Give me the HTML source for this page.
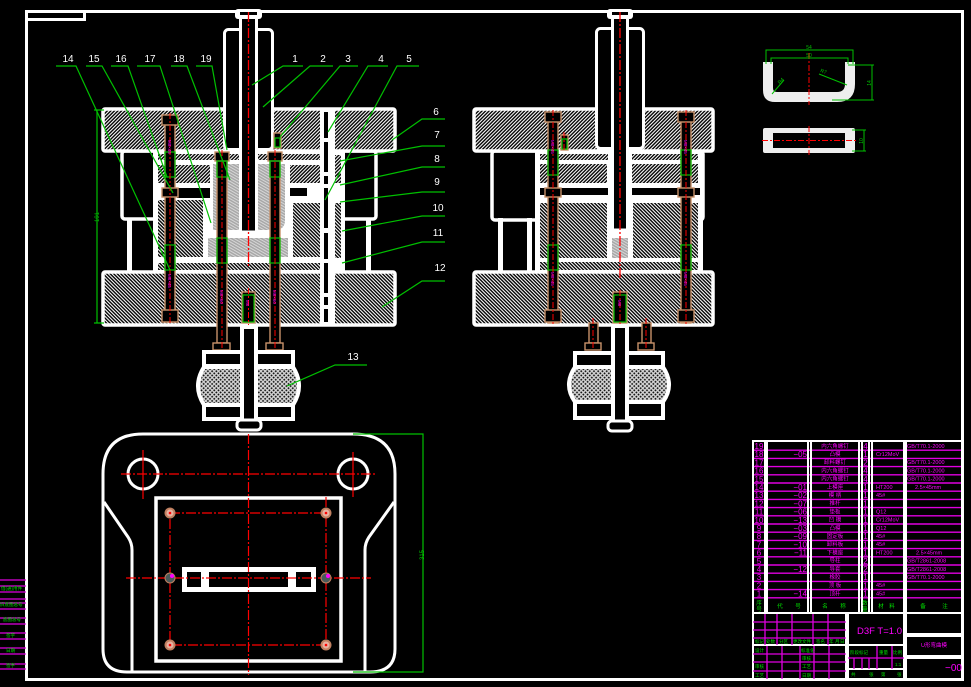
<!DOCTYPE html>
<html><head><meta charset="utf-8"><style>
html,body{margin:0;padding:0;background:#000;}
svg{display:block;}
text{font-family:"Liberation Sans","Noto Sans CJK SC",sans-serif;}
</style></head><body>
<svg width="971" height="687" viewBox="0 0 971 687" xmlns="http://www.w3.org/2000/svg">
<defs>
<pattern id="h1" width="2.5" height="2.5" patternUnits="userSpaceOnUse" patternTransform="rotate(45)"><rect width="2.5" height="2.5" fill="#000"/><rect width="1.1" height="2.5" fill="#fff"/></pattern>
<pattern id="h2" width="2.5" height="2.5" patternUnits="userSpaceOnUse" patternTransform="rotate(-45)"><rect width="2.5" height="2.5" fill="#000"/><rect width="1.1" height="2.5" fill="#fff"/></pattern>
<pattern id="g" width="2.5" height="2.5" patternUnits="userSpaceOnUse" patternTransform="rotate(-60)"><rect width="2.5" height="2.5" fill="#a8a8a8"/><rect width="0.9" height="2.5" fill="#dcdcdc"/></pattern>
<pattern id="x" width="3" height="3" patternUnits="userSpaceOnUse" patternTransform="rotate(45)"><rect width="3" height="3" fill="#d8d8d8"/><rect x="0.7" y="0.7" width="1.6" height="1.6" fill="#000"/></pattern>
</defs>
<rect width="971" height="687" fill="#000"/>

<!-- frame -->
<rect x="26.5" y="11.5" width="936" height="668" fill="none" stroke="#fff" stroke-width="3"/>
<rect x="26.5" y="11.5" width="58" height="8" fill="none" stroke="#fff" stroke-width="3"/>

<!-- ================= LEFT ASSEMBLY ================= -->
<rect x="122" y="151" width="254" height="68" rx="3" fill="#000" stroke="#fff" stroke-width="3.5"/>
<rect x="127" y="218" width="5" height="53" fill="#fff"/>
<rect x="366" y="218" width="5" height="53" fill="#fff"/>
<rect x="153" y="151" width="192" height="120" fill="#fff"/>
<rect x="103" y="109" width="292" height="42" rx="2" fill="url(#h1)" stroke="#fff" stroke-width="3.5"/>
<rect x="103" y="272" width="292" height="53" rx="2" fill="url(#h2)" stroke="#fff" stroke-width="3.5"/>
<!-- stack -->
<rect x="158" y="154" width="82" height="6" fill="url(#h1)"/>
<rect x="257" y="154" width="63" height="6" fill="url(#h1)"/>
<rect x="158" y="165" width="52" height="18" fill="url(#h1)"/>
<rect x="290" y="165" width="30" height="18" fill="url(#h1)"/>
<rect x="177" y="188" width="33" height="10" fill="#000"/>
<rect x="290" y="188" width="17" height="8" fill="#000"/>
<rect x="158" y="200" width="45" height="57" fill="url(#h2)"/>
<rect x="293" y="203" width="27" height="54" fill="url(#h2)"/>
<rect x="158" y="263" width="162" height="7" fill="url(#h2)"/>
<rect x="335" y="155" width="6" height="28" fill="url(#h1)"/>
<rect x="335" y="203" width="6" height="55" fill="url(#h2)"/>
<rect x="213" y="164" width="27" height="66" fill="url(#g)"/>
<path d="M257 164 H285 V220 Q285 230 275 230 H257 Z" fill="url(#g)"/>
<rect x="208" y="238" width="80" height="19" fill="url(#g)"/>
<!-- slot -->
<rect x="320" y="110" width="15" height="214" fill="#fff"/>
<line x1="326" y1="112" x2="326" y2="322" stroke="#000" stroke-width="4" stroke-dasharray="26 4 30 4 8 4 40 5"/>
<!-- shank + stem -->
<rect x="224.5" y="29.5" width="48" height="120" rx="4" fill="#000" stroke="#fff" stroke-width="3"/>
<rect x="240.5" y="17" width="16" height="215" fill="#000" stroke="#fff" stroke-width="3"/>
<rect x="235" y="9" width="27" height="10" rx="3" fill="#fff"/>
<rect x="240" y="12" width="17" height="3" fill="#000"/>
<line x1="248.5" y1="12" x2="248.5" y2="268" stroke="#f00" stroke-width="1.3" stroke-dasharray="10 2 2 2"/>
<!-- bolts LA -->
<g stroke="#c8916a" stroke-width="1.4" fill="#000">
<rect x="165" y="118" width="10" height="204"/>
<rect x="162" y="115" width="16" height="10"/>
<rect x="162" y="188" width="16" height="9"/>
<rect x="162" y="310" width="16" height="12"/>
<rect x="217" y="153" width="10" height="190"/>
<rect x="215" y="152" width="14" height="9"/>
<rect x="213" y="343" width="17" height="7"/>
<rect x="270" y="153" width="10" height="190"/>
<rect x="268" y="152" width="14" height="9"/>
<rect x="266" y="343" width="17" height="7"/>
<rect x="242" y="292" width="13" height="31"/>
<rect x="274" y="133" width="7" height="15"/>
</g>
<g stroke="#00c000" stroke-width="1.2" fill="none">
<rect x="165" y="152" width="10" height="25"/><rect x="165" y="245" width="10" height="25"/>
<rect x="217" y="161" width="10" height="16"/><rect x="217" y="238" width="10" height="25"/>
<rect x="270" y="161" width="10" height="16"/><rect x="270" y="238" width="10" height="25"/>
<rect x="243" y="295" width="11" height="27"/><rect x="275" y="138" width="5" height="9"/>
</g>
<g stroke="#f00" stroke-width="1" stroke-dasharray="6 2 2 2">
<line x1="170" y1="113" x2="170" y2="325"/><line x1="222" y1="150" x2="222" y2="348"/><line x1="275" y1="150" x2="275" y2="348"/><line x1="248.5" y1="288" x2="248.5" y2="325"/>
</g>
<g fill="#f0f" font-size="4.5">
<text transform="translate(168,140) rotate(90)">M8×45</text>
<text transform="translate(168,274) rotate(90)">M8×45</text>
<text transform="translate(220,290) rotate(90)">M6×60</text>
<text transform="translate(273,290) rotate(90)">M6×60</text>
<text transform="translate(246,300) rotate(90)">M6</text>
</g>
<!-- buffer LA -->
<rect x="204" y="352" width="89" height="14" fill="#000" stroke="#fff" stroke-width="4"/>
<path d="M204 367 H293 Q305 386 293 405 H204 Q192 386 204 367 Z" fill="url(#x)" stroke="#fff" stroke-width="4"/>
<rect x="204" y="405" width="89" height="14" fill="#000" stroke="#fff" stroke-width="4"/>
<rect x="242" y="327" width="14" height="99" fill="#000" stroke="#fff" stroke-width="4"/>
<rect x="237" y="420" width="24" height="10" rx="4" fill="#000" stroke="#fff" stroke-width="3"/>
<!-- leaders -->
<g stroke="#00c000" stroke-width="1.2" fill="none">
<path d="M56 66 H76 L170 270"/><path d="M86 66 H102 L173 193"/><path d="M111 66 H128 L167 177"/>
<path d="M137 66 H160 L211 223"/><path d="M171 66 H187 L230 180"/><path d="M196 66 H212 L227 150"/>
<path d="M303 66 H283 L252 85"/><path d="M333 66 H310 L263 107"/><path d="M358 66 H340 L280 137"/>
<path d="M388 66 H368 L328 132"/><path d="M419 66 H397 L325 200"/>
<path d="M445 119 H422 L392 140"/><path d="M445 146 H422 L340 161"/><path d="M445 167 H422 L340 185"/>
<path d="M445 192 H422 L340 202"/><path d="M445 216 H422 L342 231"/><path d="M445 242 H422 L342 263"/>
<path d="M445 281 H422 L382 307"/><path d="M367 365 H335 L287 386"/>
<path d="M97 110 V323 M94 110 H104 M94 323 H104"/>
</g>
<text transform="translate(99,222) rotate(-90)" fill="#00c000" font-size="6">191</text>
<g fill="#fff" font-size="10" text-anchor="middle">
<text x="68" y="62">14</text><text x="94" y="62">15</text><text x="121" y="62">16</text><text x="150" y="62">17</text><text x="179" y="62">18</text><text x="206" y="62">19</text>
<text x="295" y="62">1</text><text x="323" y="62">2</text><text x="348" y="62">3</text><text x="381" y="62">4</text><text x="409" y="62">5</text>
<text x="436" y="115">6</text><text x="437" y="138">7</text><text x="437" y="162">8</text><text x="437" y="185">9</text>
<text x="438" y="211">10</text><text x="438" y="236">11</text><text x="440" y="271">12</text><text x="353" y="360">13</text>
</g>

<!-- ================= RIGHT ASSEMBLY ================= -->
<rect x="492" y="151" width="211" height="69" rx="3" fill="#000" stroke="#fff" stroke-width="3.5"/>
<rect x="498" y="218" width="5" height="53" fill="#fff"/>
<rect x="527" y="218" width="5" height="53" fill="#fff"/>
<rect x="535" y="151" width="168" height="120" fill="#fff"/>
<rect x="474" y="109" width="239" height="42" rx="2" fill="url(#h1)" stroke="#fff" stroke-width="3.5"/>
<rect x="474" y="272" width="239" height="53" rx="2" fill="url(#h2)" stroke="#fff" stroke-width="3.5"/>
<rect x="540" y="154" width="68" height="6" fill="url(#h1)"/>
<rect x="632" y="154" width="66" height="6" fill="url(#h1)"/>
<rect x="540" y="164" width="67" height="19" fill="url(#h1)"/>
<rect x="632" y="164" width="66" height="19" fill="url(#h1)"/>
<rect x="540" y="188" width="68" height="7" fill="#000"/>
<rect x="632" y="188" width="68" height="7" fill="#000"/>
<rect x="540" y="203" width="67" height="55" fill="url(#h2)"/>
<rect x="633" y="203" width="65" height="55" fill="url(#h2)"/>
<rect x="540" y="262" width="158" height="8" fill="url(#h2)"/>
<rect x="612" y="238" width="16" height="20" fill="url(#g)"/>
<rect x="596.5" y="28.5" width="47" height="120" rx="4" fill="#000" stroke="#fff" stroke-width="3"/>
<rect x="612.5" y="17" width="15" height="213" fill="#000" stroke="#fff" stroke-width="3"/>
<rect x="607" y="9" width="26" height="10" rx="3" fill="#fff"/>
<rect x="612" y="12" width="16" height="3" fill="#000"/>
<line x1="620" y1="12" x2="620" y2="278" stroke="#f00" stroke-width="1.3" stroke-dasharray="10 2 2 2"/>
<g stroke="#c8916a" stroke-width="1.4" fill="#000">
<rect x="548" y="113" width="10" height="210"/><rect x="545" y="112" width="16" height="10"/><rect x="545" y="188" width="16" height="9"/><rect x="545" y="310" width="16" height="12"/>
<rect x="681" y="113" width="10" height="210"/><rect x="678" y="112" width="16" height="10"/><rect x="678" y="188" width="16" height="9"/><rect x="678" y="310" width="16" height="12"/>
<rect x="613" y="292" width="14" height="31"/><rect x="561" y="135" width="7" height="15"/>
<rect x="589" y="323" width="9" height="20"/><rect x="585" y="343" width="16" height="7"/>
<rect x="642" y="323" width="9" height="20"/><rect x="638" y="343" width="16" height="7"/>
</g>
<g stroke="#00c000" stroke-width="1.2" fill="none">
<rect x="548" y="150" width="10" height="25"/><rect x="548" y="245" width="10" height="25"/>
<rect x="681" y="150" width="10" height="25"/><rect x="681" y="245" width="10" height="25"/>
<rect x="614" y="295" width="12" height="27"/><rect x="562" y="139" width="5" height="10"/>
</g>
<g stroke="#f00" stroke-width="1" stroke-dasharray="6 2 2 2">
<line x1="553" y1="110" x2="553" y2="325"/><line x1="686" y1="110" x2="686" y2="325"/><line x1="620" y1="290" x2="620" y2="325"/><line x1="593" y1="318" x2="593" y2="350"/><line x1="646" y1="318" x2="646" y2="350"/><line x1="564" y1="132" x2="564" y2="150"/>
</g>
<g fill="#f0f" font-size="4.5">
<text transform="translate(551,140) rotate(90)">M8×45</text><text transform="translate(684,140) rotate(90)">M8×45</text>
<text transform="translate(551,272) rotate(90)">M8×45</text><text transform="translate(684,272) rotate(90)">M8×45</text>
<text transform="translate(618,300) rotate(90)">M6</text>
</g>
<rect x="575" y="353" width="88" height="14" fill="#000" stroke="#fff" stroke-width="4"/>
<path d="M575 367 H663 Q675 385 663 402 H575 Q563 385 575 367 Z" fill="url(#x)" stroke="#fff" stroke-width="4"/>
<rect x="575" y="402" width="88" height="16" fill="#000" stroke="#fff" stroke-width="4"/>
<rect x="613" y="326" width="14" height="100" fill="#000" stroke="#fff" stroke-width="4"/>
<rect x="608" y="421" width="24" height="10" rx="4" fill="#000" stroke="#fff" stroke-width="3"/>

<!-- ================= PLAN VIEW ================= -->
<g fill="none" stroke="#fff" stroke-width="3">
<path d="M143 434 H353 Q395 434 395 474 V649 Q395 672 370 672 H127 Q103 672 103 649 V474 Q103 434 143 434 Z"/>
<path d="M104 502 L128 537 Q132 543 132 550 V672"/>
<path d="M394 502 L369 537 Q365 543 365 550 V672"/>
<circle cx="143" cy="474" r="15"/><circle cx="353" cy="474" r="15"/>
<rect x="156" y="498" width="185" height="163" stroke-width="3.5"/>
</g>
<rect x="182" y="567" width="134" height="25" fill="#fff"/>
<rect x="187" y="572" width="14" height="15" fill="#000"/>
<rect x="209" y="572" width="79" height="15" fill="#000"/>
<rect x="296" y="572" width="15" height="15" fill="#000"/>
<g stroke="#f00" stroke-width="1.2" stroke-dasharray="10 2 2 2" fill="none">
<line x1="121" y1="474" x2="376" y2="474"/><line x1="248.5" y1="434" x2="248.5" y2="675"/>
<line x1="126" y1="578" x2="371" y2="578"/>
<rect x="170" y="513" width="156" height="132"/>
<line x1="326" y1="497" x2="326" y2="513"/>
</g>
<g stroke="#f00" stroke-width="1.2"><line x1="143" y1="450" x2="143" y2="499"/><line x1="353" y1="452" x2="353" y2="497"/></g>
<g>
<circle cx="170" cy="513" r="5.5" fill="#c08060"/><circle cx="170" cy="513" r="3.5" fill="#e8b0a0"/><circle cx="170" cy="513" r="1.3" fill="#f00"/>
<circle cx="326" cy="513" r="5.5" fill="#c08060"/><circle cx="326" cy="513" r="3.5" fill="#e8b0a0"/><circle cx="326" cy="513" r="1.3" fill="#f00"/>
<circle cx="170" cy="645" r="5.5" fill="#c08060"/><circle cx="170" cy="645" r="3.5" fill="#e8b0a0"/><circle cx="170" cy="645" r="1.3" fill="#f00"/>
<circle cx="326" cy="645" r="5.5" fill="#c08060"/><circle cx="326" cy="645" r="3.5" fill="#e8b0a0"/><circle cx="326" cy="645" r="1.3" fill="#f00"/>
<circle cx="170" cy="578" r="5" fill="#4a5a5a" stroke="#c08060"/><circle cx="172" cy="576" r="2" fill="#f0f"/>
<circle cx="326" cy="578" r="5" fill="#4a5a5a" stroke="#c08060"/><circle cx="328" cy="576" r="2" fill="#f0f"/>
</g>
<path d="M353 434 H423 V672 H353" fill="none" stroke="#00c000" stroke-width="1.2"/>
<text transform="translate(424,560) rotate(-90)" fill="#00c000" font-size="6">315</text>

<!-- ================= PART SKETCH ================= -->
<path d="M763 62 V90 Q763 102 775 102 H837 Q855 102 855 84 V62 H845 V84 Q845 92 837 92 H777 Q773 92 773 88 V62 Z" fill="#eee"/>
<rect x="763" y="128" width="92" height="25" rx="2" fill="#eee"/>
<rect x="773" y="133" width="72" height="15" fill="#000"/>
<g stroke="#f00" stroke-width="1" stroke-dasharray="6 2 2 2"><line x1="809" y1="53" x2="809" y2="105"/><line x1="809" y1="126" x2="809" y2="155"/><line x1="762" y1="140.5" x2="857" y2="140.5"/></g>
<g stroke="#00c000" stroke-width="1" fill="none">
<path d="M766 64 V50 H853 V64"/><path d="M771 64 V58 H848 V64"/>
<path d="M848 65 H874 M832 100 H874 M872 65 V100"/>
<path d="M852 130 H866 M852 151 H866 M864 130 V151"/>
<path d="M772 94 L784 80"/><path d="M819 74 L847 85"/>
</g>
<g fill="#00c000" font-size="5" text-anchor="middle">
<text x="809" y="49">54</text><text x="809" y="57">50</text>
<text transform="translate(871,83) rotate(-90)">14</text>
<text transform="translate(863,141) rotate(-90)">10</text>
<text transform="translate(782,82) rotate(-45)">R4</text>
<text transform="translate(823,73) rotate(20)">R7</text>
</g>

<!-- ================= LEFT SMALL TABLE ================= -->
<g stroke="#e000e0" stroke-width="1.3">
<line x1="0" y1="580" x2="26" y2="580"/><line x1="0" y1="586" x2="26" y2="586"/><line x1="0" y1="592" x2="26" y2="592"/>
<line x1="0" y1="599" x2="26" y2="599"/><line x1="0" y1="603" x2="26" y2="603"/><line x1="0" y1="609" x2="26" y2="609"/>
<line x1="0" y1="618" x2="26" y2="618"/><line x1="0" y1="624" x2="26" y2="624"/><line x1="0" y1="633" x2="26" y2="633"/>
<line x1="0" y1="639" x2="26" y2="639"/><line x1="0" y1="648" x2="26" y2="648"/><line x1="0" y1="654" x2="26" y2="654"/>
<line x1="0" y1="664" x2="26" y2="664"/><line x1="0" y1="669" x2="26" y2="669"/>
</g>
<g fill="#00e000" font-size="4.5">
<text x="1" y="590">借(通)用件</text><text x="0" y="606">旧底图总号</text><text x="3" y="621">底图总号</text>
<text x="6" y="637">签字</text><text x="6" y="652">日期</text><text x="6" y="667">签字</text>
</g>

<!-- ================= PARTS LIST ================= -->
<g stroke="#e000e0" stroke-width="1.4">
<line x1="753" y1="450.2" x2="962" y2="450.2"/><line x1="753" y1="458.4" x2="962" y2="458.4"/><line x1="753" y1="466.6" x2="962" y2="466.6"/>
<line x1="753" y1="474.8" x2="962" y2="474.8"/><line x1="753" y1="483" x2="962" y2="483"/><line x1="753" y1="491.2" x2="962" y2="491.2"/>
<line x1="753" y1="499.4" x2="962" y2="499.4"/><line x1="753" y1="507.6" x2="962" y2="507.6"/><line x1="753" y1="515.8" x2="962" y2="515.8"/>
<line x1="753" y1="524" x2="962" y2="524"/><line x1="753" y1="532.2" x2="962" y2="532.2"/><line x1="753" y1="540.4" x2="962" y2="540.4"/>
<line x1="753" y1="548.6" x2="962" y2="548.6"/><line x1="753" y1="556.8" x2="962" y2="556.8"/><line x1="753" y1="565" x2="962" y2="565"/>
<line x1="753" y1="573.2" x2="962" y2="573.2"/><line x1="753" y1="581.4" x2="962" y2="581.4"/><line x1="753" y1="589.6" x2="962" y2="589.6"/>
<line x1="753" y1="597.8" x2="962" y2="597.8"/>
</g>
<g stroke="#fff" stroke-width="2">
<line x1="752" y1="441" x2="963" y2="441"/>
<line x1="753" y1="441" x2="753" y2="680"/><line x1="765" y1="441" x2="765" y2="613"/><line x1="767" y1="441" x2="767" y2="613"/>
<line x1="808" y1="441" x2="808" y2="613"/><line x1="811" y1="441" x2="811" y2="613"/>
<line x1="859" y1="441" x2="859" y2="613"/><line x1="862" y1="441" x2="862" y2="613"/>
<line x1="869" y1="441" x2="869" y2="613"/><line x1="872" y1="441" x2="872" y2="613"/>
<line x1="904" y1="441" x2="904" y2="680"/><line x1="906" y1="441" x2="906" y2="680"/>
<line x1="962" y1="441" x2="962" y2="680"/>
<line x1="752" y1="613" x2="963" y2="613"/>
<line x1="846" y1="613" x2="846" y2="680"/><line x1="848" y1="613" x2="848" y2="680"/>
<line x1="752" y1="645" x2="904" y2="645"/>
<line x1="848" y1="669" x2="904" y2="669"/>
<line x1="906" y1="634" x2="962" y2="634"/><line x1="906" y1="636" x2="962" y2="636"/>
<line x1="906" y1="656" x2="962" y2="656"/><line x1="906" y1="658" x2="962" y2="658"/>
</g>
<g fill="#f0f" font-size="8" text-anchor="middle">
<text x="759" y="449">19</text><text x="759" y="457.2">18</text><text x="759" y="465.4">17</text><text x="759" y="473.6">16</text>
<text x="759" y="481.8">15</text><text x="759" y="490">14</text><text x="759" y="498.2">13</text><text x="759" y="506.4">12</text>
<text x="759" y="514.6">11</text><text x="759" y="522.8">10</text><text x="759" y="531">9</text><text x="759" y="539.2">8</text>
<text x="759" y="547.4">7</text><text x="759" y="555.6">6</text><text x="759" y="563.8">5</text><text x="759" y="572">4</text>
<text x="759" y="580.2">3</text><text x="759" y="588.4">2</text><text x="759" y="596.6">1</text>
</g>
<g fill="#f0f" font-size="8" text-anchor="end">
<text x="807" y="457.2">−05</text><text x="807" y="490">−01</text><text x="807" y="498.2">−02</text><text x="807" y="506.4">−07</text>
<text x="807" y="514.6">−06</text><text x="807" y="522.8">−13</text><text x="807" y="531">−03</text><text x="807" y="539.2">−09</text>
<text x="807" y="547.4">−10</text><text x="807" y="555.6">−11</text><text x="807" y="572">−12</text><text x="807" y="596.6">−14</text>
</g>
<g fill="#f0f" font-size="5.5" text-anchor="middle">
<text x="835" y="448">内六角螺钉</text><text x="835" y="456">凸模</text><text x="835" y="464">卸料螺钉</text><text x="835" y="472.5">内六角螺钉</text>
<text x="835" y="480.5">内六角螺钉</text><text x="835" y="489">上模座</text><text x="835" y="497">模 柄</text><text x="835" y="505">推杆</text>
<text x="835" y="513.5">垫板</text><text x="835" y="521.5">凹 模</text><text x="835" y="530">凸模</text><text x="835" y="538">固定板</text>
<text x="835" y="546">卸料板</text><text x="835" y="554.5">下模座</text><text x="835" y="562.5">导柱</text><text x="835" y="571">导套</text>
<text x="835" y="579">橡胶</text><text x="835" y="587">顶 板</text><text x="835" y="595.5">顶杆</text>
</g>
<g fill="#f0f" font-size="8" text-anchor="middle">
<text x="865.5" y="449">4</text><text x="865.5" y="457.2">1</text><text x="865.5" y="465.4">2</text><text x="865.5" y="473.6">4</text>
<text x="865.5" y="481.8">4</text><text x="865.5" y="490">1</text><text x="865.5" y="498.2">1</text><text x="865.5" y="506.4">1</text>
<text x="865.5" y="514.6">1</text><text x="865.5" y="522.8">1</text><text x="865.5" y="531">1</text><text x="865.5" y="539.2">1</text>
<text x="865.5" y="547.4">1</text><text x="865.5" y="555.6">1</text><text x="865.5" y="563.8">2</text><text x="865.5" y="572">2</text>
<text x="865.5" y="580.2">1</text><text x="865.5" y="588.4">1</text><text x="865.5" y="596.6">1</text>
</g>
<g fill="#f0f" font-size="5.5">
<text x="876" y="456">Cr12MoV</text><text x="876" y="489">HT200</text><text x="876" y="497">45#</text>
<text x="876" y="513.5">Q12</text><text x="876" y="521.5">Cr12MoV</text><text x="876" y="530">Q12</text><text x="876" y="538">45#</text>
<text x="876" y="546">45#</text><text x="876" y="554.5">HT200</text><text x="876" y="587">45#</text><text x="876" y="595.5">45#</text>
<text x="907" y="448">GB/T70.1-2000</text><text x="907" y="464">GB/T70.1-2000</text><text x="907" y="472.5">GB/T70.1-2000</text>
<text x="907" y="480.5">GB/T70.1-2000</text><text x="915" y="489">2.5×45mm</text><text x="916" y="554.5">2.5×45mm</text>
<text x="907" y="562.5">GB/T2861-2008</text><text x="907" y="571">GB/T2861-2008</text><text x="907" y="579">GB/T70.1-2000</text>
</g>
<g fill="#00e000" font-size="5.5" text-anchor="middle">
<text x="759" y="605">序</text><text x="759" y="611">号</text>
<text x="780" y="608">代</text><text x="798" y="608">号</text>
<text x="825" y="608">名</text><text x="843" y="608">称</text>
<text x="865" y="605">数</text><text x="865" y="611">量</text>
<text x="881" y="608">材</text><text x="892" y="608">料</text>
<text x="923" y="608">备</text><text x="945" y="608">注</text>
</g>

<!-- ================= TITLE BLOCK ================= -->
<g stroke="#e000e0" stroke-width="1.3">
<line x1="753" y1="622" x2="846" y2="622"/><line x1="753" y1="630" x2="846" y2="630"/><line x1="753" y1="638" x2="846" y2="638"/>
<line x1="765" y1="614" x2="765" y2="645"/><line x1="777" y1="614" x2="777" y2="645"/><line x1="792" y1="614" x2="792" y2="645"/>
<line x1="813" y1="614" x2="813" y2="645"/><line x1="828" y1="614" x2="828" y2="645"/>
<line x1="753" y1="654" x2="846" y2="654"/><line x1="753" y1="662" x2="846" y2="662"/><line x1="753" y1="671" x2="846" y2="671"/>
<line x1="767" y1="646" x2="767" y2="679"/><line x1="782" y1="646" x2="782" y2="679"/><line x1="800" y1="646" x2="800" y2="679"/>
<line x1="814" y1="646" x2="814" y2="679"/><line x1="829" y1="646" x2="829" y2="679"/>
<line x1="848" y1="658" x2="904" y2="658"/>
<line x1="854" y1="658" x2="854" y2="669"/><line x1="862" y1="658" x2="862" y2="669"/><line x1="869" y1="658" x2="869" y2="669"/>
<line x1="877" y1="646" x2="877" y2="669"/><line x1="892" y1="646" x2="892" y2="669"/>
</g>
<g fill="#00e000" font-size="4.5">
<text x="755" y="643">标记</text><text x="766" y="643">处数</text><text x="779" y="643">分区</text><text x="793" y="643">更改文件</text>
<text x="816" y="643">签名</text><text x="829" y="643">年</text><text x="835" y="643">月</text><text x="840" y="643">日</text>
<text x="755" y="652">设计</text><text x="801" y="652">标准化</text>
<text x="802" y="660">审核</text>
<text x="755" y="668">审核</text><text x="802" y="668">工艺</text>
<text x="755" y="677">工艺</text><text x="802" y="677">日期</text>
<text x="850" y="654">阶段标记</text><text x="879" y="654">重量</text><text x="893" y="654">比例</text>
<text x="895" y="666">1:1</text>
<text x="851" y="676">共</text><text x="869" y="676">张</text><text x="881" y="676">第</text><text x="897" y="676">张</text>
</g>
<text x="857" y="634" fill="#f0f" font-size="9.5">D3F T=1.0</text>
<text x="934" y="647" fill="#f0f" font-size="5.5" text-anchor="middle">U形弯曲模</text>
<text x="962" y="671" fill="#f0f" font-size="10" text-anchor="end">−00</text>
</svg>
</body></html>
